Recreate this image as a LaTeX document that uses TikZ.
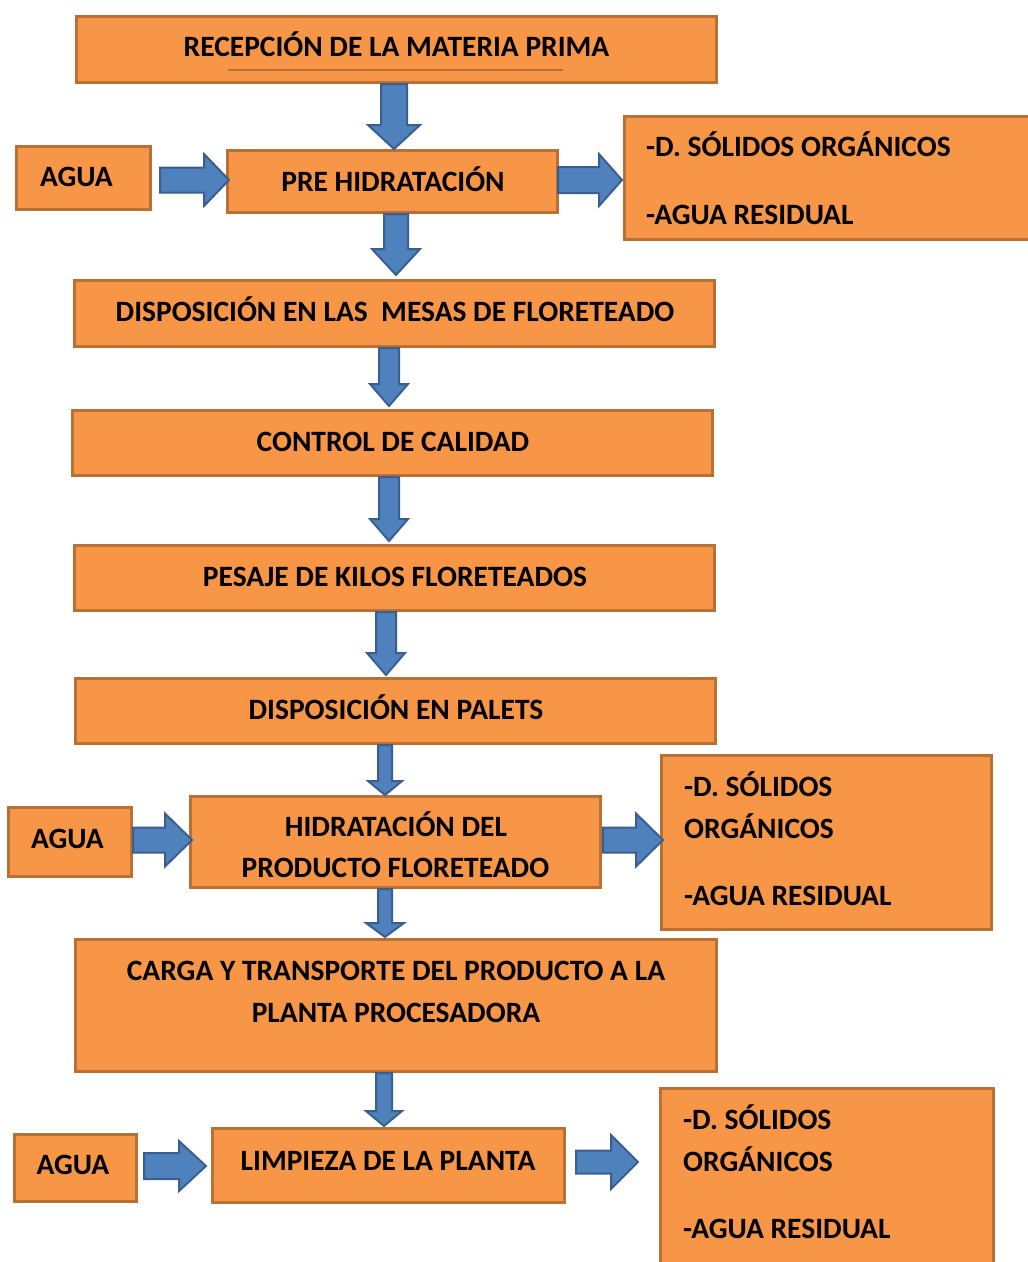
\documentclass[tikz,border=0pt]{standalone}
\usepackage{fontspec}
\setmainfont{Carlito}
\usetikzlibrary{fit}
\definecolor{boxfill}{HTML}{F79646}
\definecolor{boxline}{HTML}{B97034}
\definecolor{arrfill}{HTML}{4F81BD}
\definecolor{arrline}{HTML}{3A5F8F}
\newcommand{\darrow}[6]{%
  \draw[blockarrow] ({#1-#4},#2) -- ({#1-#4},{#3-#6}) -- ({#1-#5},{#3-#6}) -- (#1,#3)
   -- ({#1+#5},{#3-#6}) -- ({#1+#4},{#3-#6}) -- ({#1+#4},#2) -- cycle;}
\newcommand{\harrow}[6]{%
  \draw[blockarrow] (#2,{#1-#4}) -- ({#3-#6},{#1-#4}) -- ({#3-#6},{#1-#5}) -- (#3,#1)
   -- ({#3-#6},{#1+#5}) -- ({#3-#6},{#1+#4}) -- (#2,{#1+#4}) -- cycle;}
\tikzset{
  box/.style={draw=boxline, fill=boxfill, line width=3pt, inner sep=0pt},
  blockarrow/.style={draw=arrline, fill=arrfill, line width=2pt, line join=miter},
  txt/.style={font=\fontsize{29.5}{34}\selectfont\bfseries, inner sep=0pt, anchor=base},
  ltxt/.style={txt, anchor=base west}
}
\begin{document}
\begin{tikzpicture}[x=1pt,y=-1pt]
\useasboundingbox (0,0) rectangle (1028,1262);
% boxes
\node[box, fit={(76.5,16.5) (716.5,82.5)}] (rec) {};
\node[box, fit={(16.5,146.5) (150.5,209.5)}] (agua1) {};
\node[box, fit={(227.5,150.5) (557.5,212.5)}] (pre) {};
\node[box, fit={(624.5,116.5) (1030,239.5)}] (res1) {};
\node[box, fit={(74.5,280.5) (714.5,346.5)}] (mesas) {};
\node[box, fit={(72.5,410.5) (712.5,475.5)}] (control) {};
\node[box, fit={(74.5,545.5) (714.5,610.5)}] (pesaje) {};
\node[box, fit={(75.5,678.5) (715.5,743.5)}] (palets) {};
\node[box, fit={(8.5,807.5) (131.5,876.5)}] (agua2) {};
\node[box, fit={(190.5,796.5) (600.5,887.5)}] (hidr) {};
\node[box, fit={(661.5,755.5) (991.5,929.5)}] (res2) {};
\node[box, fit={(75.5,939.5) (716.5,1071.5)}] (carga) {};
\node[box, fit={(14.5,1134.5) (136.5,1201.5)}] (agua3) {};
\node[box, fit={(212.5,1128.5) (564.5,1202.5)}] (limp) {};
\node[box, fit={(660.5,1088.5) (993.5,1270)}] (res3) {};
% underline in first box
\draw[boxline, line width=1.5pt] (228,70) -- (563,70);
% texts
\node[txt] (trec) at (396.5,56.5) {RECEPCIÓN DE LA MATERIA PRIMA};
\node[txt] (tagua1) at (76.5,186.5) {AGUA};
\node[txt] (tpre) at (393,191) {PRE HIDRATACIÓN};
\node[ltxt] (tres1a) at (646,156) {-D. SÓLIDOS ORGÁNICOS};
\node[ltxt] (tres1b) at (646,224) {-AGUA RESIDUAL};
\node[txt] (tmesas) at (395,321) {DISPOSICIÓN EN LAS\ \ MESAS DE FLORETEADO};
\node[txt] (tcontrol) at (393,451.5) {CONTROL DE CALIDAD};
\node[txt] (tpesaje) at (395,586) {PESAJE DE KILOS FLORETEADOS};
\node[txt] (tpalets) at (396,719) {DISPOSICIÓN EN PALETS};
\node[txt] (tagua2) at (67.5,848) {AGUA};
\node[txt] (thidra) at (396,836) {HIDRATACIÓN DEL};
\node[txt] (thidrb) at (395.5,877) {PRODUCTO FLORETEADO};
\node[ltxt] (tres2a) at (684,796) {-D. SÓLIDOS};
\node[ltxt] (tres2b) at (684,838) {ORGÁNICOS};
\node[ltxt] (tres2c) at (684,905) {-AGUA RESIDUAL};
\node[txt] (tcarga) at (396,980) {CARGA Y TRANSPORTE DEL PRODUCTO A LA};
\node[txt] (tcargb) at (396,1022) {PLANTA PROCESADORA};
\node[txt] (tagua3) at (73,1174) {AGUA};
\node[txt] (tlimp) at (388,1170) {LIMPIEZA DE LA PLANTA};
\node[ltxt] (tres3a) at (683,1129) {-D. SÓLIDOS};
\node[ltxt] (tres3b) at (683,1171) {ORGÁNICOS};
\node[ltxt] (tres3c) at (683,1238) {-AGUA RESIDUAL};
% down arrows
\darrow{394}{84}{149}{13}{26}{24}
\darrow{396}{214}{275}{12}{24}{26}
\darrow{389}{348}{406}{10}{19}{22}
\darrow{389}{477}{541}{10}{19}{22}
\darrow{386}{612}{675}{10}{19}{22}
\darrow{385}{745}{795}{7}{17}{14}
\darrow{385}{889}{937}{7}{19}{14}
\darrow{384}{1073}{1126}{8}{18}{15}
% horizontal arrows
\harrow{180}{160}{229}{12.5}{26}{25}
\harrow{180}{558}{622}{13}{26}{23}
\harrow{840}{133}{192}{12.5}{26.5}{27}
\harrow{840}{603}{663}{12.5}{26.5}{27}
\harrow{1166}{144}{206}{13}{25}{27}
\harrow{1162}{576}{638}{11.5}{27}{27}
\end{tikzpicture}
\end{document}
